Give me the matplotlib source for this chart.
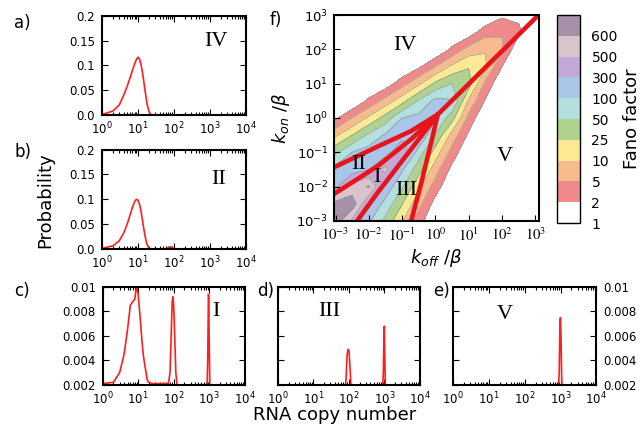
import numpy as np
import matplotlib
matplotlib.use("Agg")
import matplotlib.pyplot as plt
from matplotlib.ticker import LogLocator, NullFormatter, NullLocator

# === DATA: mRNA distributions (copy number, probability) ===
# a) region IV
a_n = [1, 2, 3, 4, 5, 6, 7, 8, 9, 10, 11, 12, 13, 14, 15, 16, 17, 18, 20, 22, 25, 30]
a_p = [0.001, 0.008, 0.02, 0.04, 0.058, 0.075, 0.09, 0.103, 0.112, 0.1166, 0.113,
       0.103, 0.09, 0.075, 0.059, 0.045, 0.032, 0.021, 0.008, 0.002, 0.0, 0.0]
# b) region II
b_n = [1, 2, 3, 4, 5, 6, 7, 8, 9, 10, 11, 12, 13, 14, 15, 16, 17, 18, 20, 22,
       60, 70, 80, 90, 110]
b_p = [0.001, 0.006, 0.016, 0.032, 0.05, 0.068, 0.084, 0.095, 0.1, 0.098, 0.09,
       0.078, 0.062, 0.047, 0.034, 0.023, 0.014, 0.008, 0.002, 0.0,
       0.0, 0.002, 0.004, 0.002, 0.0]
# c) region I
c_n = [1, 2, 3, 4, 5, 6, 7, 8, 9, 10, 11, 12, 13, 14, 15, 16, 18, 20, 25, 35, 50,
       71, 79, 85, 91, 95, 100, 107, 115, 126, 150, 300, 600,
       871, 912, 955, 977, 1000, 1047, 1096, 1300]
c_p = [0.0021, 0.0022, 0.0030, 0.0045, 0.0065, 0.0085, 0.0088, 0.0090, 0.0101, 0.0094,
       0.0080, 0.0066, 0.0053, 0.0044, 0.0038, 0.0033, 0.0024, 0.0022, 0.0021, 0.0021, 0.0021,
       0.0021, 0.0030, 0.0060, 0.0088, 0.0092, 0.0085, 0.0060, 0.0030, 0.0018, 0.0015, 0.0012, 0.0012,
       0.0015, 0.0040, 0.0094, 0.0092, 0.0060, 0.0020, 0.0010, 0.0005]
# d) region III
d_n = [76, 83, 89, 95, 100, 107, 115, 126, 871, 933, 977, 1000, 1023, 1072, 1122]
d_p = [0.001, 0.0025, 0.0045, 0.0049, 0.0048, 0.0035, 0.0018, 0.0008,
       0.001, 0.003, 0.0066, 0.0068, 0.0045, 0.0015, 0.0]
# e) region V
e_n = [850, 912, 955, 988, 1023, 1072, 1148]
e_p = [0.001, 0.003, 0.0068, 0.0075, 0.0060, 0.0025, 0.0005]

# f) Fano factor read on a half-decade grid (rows: kon, columns: koff)
log_koff = [-3.05, -2.5, -2.0, -1.5, -1.0, -0.5, 0.0, 0.5, 1.0, 1.5, 2.0, 2.5, 3.1]
log_kon = [-3.0, -2.5, -2.0, -1.5, -1.0, -0.5, 0.0, 0.5, 1.0, 1.5, 2.0, 2.5, 3.0]
fano = [
    [680, 460, 132, 43, 11, 3.3, 1, 1, 1, 1, 1, 1, 1],
    [625, 660, 300, 84, 26, 6.5, 1.6, 1, 1, 1, 1, 1, 1],
    [230, 540, 610, 232, 57, 14, 3.5, 1, 1, 1, 1, 1, 1],
    [150, 200, 300, 535, 128, 35, 7.2, 1.7, 1, 1, 1, 1, 1],
    [42, 100, 190, 210, 484, 77, 18, 3.8, 1, 1, 1, 1, 1],
    [8.4, 25, 60, 130, 220, 324, 48, 8, 1.8, 1, 1, 1, 1],
    [1.7, 5, 13, 35, 100, 160, 114, 35, 4, 1, 1, 1, 1],
    [1, 1, 2.6, 7, 19, 55, 160, 120, 9.1, 1.9, 1, 1, 1],
    [1, 1, 1, 1.4, 3.8, 9, 30, 50, 37, 4.3, 1.1, 1, 1],
    [1, 1, 1, 1, 1, 1.8, 5, 13, 24, 12, 2, 1, 1],
    [1, 1, 1, 1, 1, 1, 1, 2.6, 7, 9.8, 5.8, 1.2, 1],
    [1, 1, 1, 1, 1, 1, 1, 1, 1.4, 3.8, 4.8, 2.6, 1],
    [1, 1, 1, 1, 1, 1, 1, 1, 1, 1, 1.8, 1.8, 1],
]
fano_bounds = [1, 2, 5, 10, 25, 50, 100, 300, 500, 600, 700]
fano_labels = ['1', '2', '5', '10', '25', '50', '100', '300', '500', '600']
fano_colors = ['#ffffff', '#ef8a8b', '#f8bb8d', '#fbe993', '#afd38f', '#b3e0dd',
               '#a9c6e9', '#c2a9d8', '#d9c3cd', '#a791a8']

# region boundaries in f (log10 koff, log10 kon)
bound_koff = [
    [-3.2, -1.73, -0.73, 0.07],
    [-3.2, -1.73, -0.73, 0.07],
    [-2.45, -1.73, -0.73, 0.07],
    [-0.76, -0.4, -0.1, 0.07],
    [0.07, 3.2],
]
bound_kon = [
    [-1.51, -0.83, -0.38, 0.10],
    [-2.31, -1.40, -0.62, 0.10],
    [-3.13, -2.17, -0.91, 0.10],
    [-3.12, -1.8, -0.6, 0.10],
    [0.10, 3.1],
]

RED = '#ff1e1e'
SERIF = 'Liberation Serif'

fig = plt.figure(figsize=(6.42, 4.29), dpi=100)


def dist_axes(rect, n, p, ylim, yticks, ylabels, roman, rx, ry):
    ax = fig.add_axes(rect)
    ax.plot(n, p, color=RED, lw=1.2)
    ax.set_xscale('log')
    ax.set_xlim(1, 1e4)
    ax.set_ylim(*ylim)
    ax.xaxis.set_major_locator(LogLocator(base=10, numticks=10))
    ax.xaxis.set_minor_locator(LogLocator(base=10, subs=np.arange(2, 10), numticks=10))
    ax.xaxis.set_minor_formatter(NullFormatter())
    ax.set_yticks(yticks)
    ax.set_yticklabels(ylabels)
    ax.tick_params(which='both', direction='in', top=True, right=True, width=0.8)
    ax.tick_params(which='major', length=4, labelsize=8.5)
    ax.tick_params(axis='x', which='major', pad=4)
    ax.tick_params(axis='y', which='major', pad=5)
    ax.tick_params(which='minor', length=2)
    for s in ax.spines.values():
        s.set_linewidth(1.5)
    ax.text(rx, ry, roman, transform=ax.transAxes, fontsize=16, family=SERIF,
            ha='center', va='center')
    return ax


top_ticks = [0, 0.05, 0.1, 0.15, 0.2]
top_labels = ['0.0', '0.05', '0.1', '0.15', '0.2']
low_ticks = [0.002, 0.004, 0.006, 0.008, 0.01]
low_labels = ['0.002', '0.004', '0.006', '0.008', '0.01']

dist_axes([0.159, 0.732, 0.224, 0.231], a_n, a_p, (0, 0.2), top_ticks, top_labels, 'IV', 0.79, 0.74)
dist_axes([0.159, 0.420, 0.224, 0.231], b_n, b_p, (0, 0.2), top_ticks, top_labels, 'II', 0.81, 0.70)
dist_axes([0.160, 0.103, 0.221, 0.228], c_n, c_p, (0.002, 0.01), low_ticks, low_labels, 'I', 0.80, 0.75)
axd = dist_axes([0.433, 0.103, 0.221, 0.228], d_n, d_p, (0.002, 0.01), low_ticks, low_labels, 'III', 0.36, 0.75)
axd.tick_params(labelleft=False)
axe = dist_axes([0.706, 0.103, 0.223, 0.228], e_n, e_p, (0.002, 0.01), low_ticks, low_labels, 'V', 0.36, 0.72)
axe.tick_params(labelleft=False, labelright=True)

# === panel f: Fano factor map ===
f_rect = [0.520, 0.485, 0.319, 0.480]
# filled contours are computed in log10 units on a plain axes underneath
axc = fig.add_axes(f_rect)
level_idx = np.interp(np.array(fano, dtype=float), fano_bounds, np.arange(len(fano_bounds)))
cf = axc.contourf(log_koff, log_kon, level_idx, levels=np.arange(len(fano_bounds)), colors=fano_colors)
axc.contour(log_koff, log_kon, level_idx, levels=np.arange(1, len(fano_bounds) - 1),
            colors='#969696', linewidths=0.5)
axc.set_xlim(-3.05, 3.1)
axc.set_ylim(-3, 3)
axc.axis('off')

axf = fig.add_axes(f_rect)
axf.patch.set_visible(False)
for bx, by in zip(bound_koff, bound_kon):
    axf.plot(10.0 ** np.array(bx), 10.0 ** np.array(by), color='#e8141c', lw=3.3,
             solid_capstyle='round', solid_joinstyle='round')
axf.set_xscale('log')
axf.set_yscale('log')
axf.set_xlim(10 ** -3.05, 10 ** 3.1)
axf.set_ylim(1e-3, 1e3)
dec = np.arange(-3, 4)
axf.set_xticks(10.0 ** dec, [f'$10^{{{k}}}$' for k in dec], math_fontfamily='stix', fontsize=10.5)
axf.set_yticks(10.0 ** dec, [f'$10^{{{k}}}$' for k in dec], fontsize=9.5)
axf.xaxis.set_minor_locator(NullLocator())
axf.yaxis.set_minor_locator(NullLocator())
axf.tick_params(direction='in', length=4, width=0.8, pad=4)
for s in axf.spines.values():
    s.set_linewidth(1.5)
axf.set_xlabel(r'$k_{off}$ /$\beta$', fontsize=13, labelpad=2)
axf.set_ylabel(r'$k_{on}$ /$\beta$', fontsize=13, labelpad=3)
for txt, fx, fy in [('IV', 0.346, 0.854), ('V', 0.834, 0.311), ('II', 0.12, 0.272),
                    ('I', 0.21, 0.212), ('III', 0.356, 0.150)]:
    axf.text(fx, fy, txt, transform=axf.transAxes, fontsize=16, family=SERIF,
             ha='center', va='center')

cax = fig.add_axes([0.868, 0.480, 0.036, 0.485])
cb = fig.colorbar(cf, cax=cax, ticks=np.arange(len(fano_labels)))
cb.set_ticklabels(fano_labels)
cb.ax.tick_params(length=0, labelsize=10, pad=8)
cb.outline.set_linewidth(1.0)
cb.set_label('Fano factor', fontsize=13, labelpad=4)

# === labels ===
fig.text(0.070, 0.534, 'Probability', rotation=90, fontsize=13, ha='center', va='center')
fig.text(0.522, 0.033, 'RNA copy number', fontsize=13, ha='center', va='center')
for lbl, x, y in [('a)', 0.034, 0.946), ('b)', 0.036, 0.646), ('c)', 0.034, 0.322),
                  ('d)', 0.413, 0.322), ('e)', 0.687, 0.322), ('f)', 0.430, 0.953)]:
    fig.text(x, y, lbl, fontsize=12, ha='center', va='center')

fig.savefig('out.png', dpi=100)
